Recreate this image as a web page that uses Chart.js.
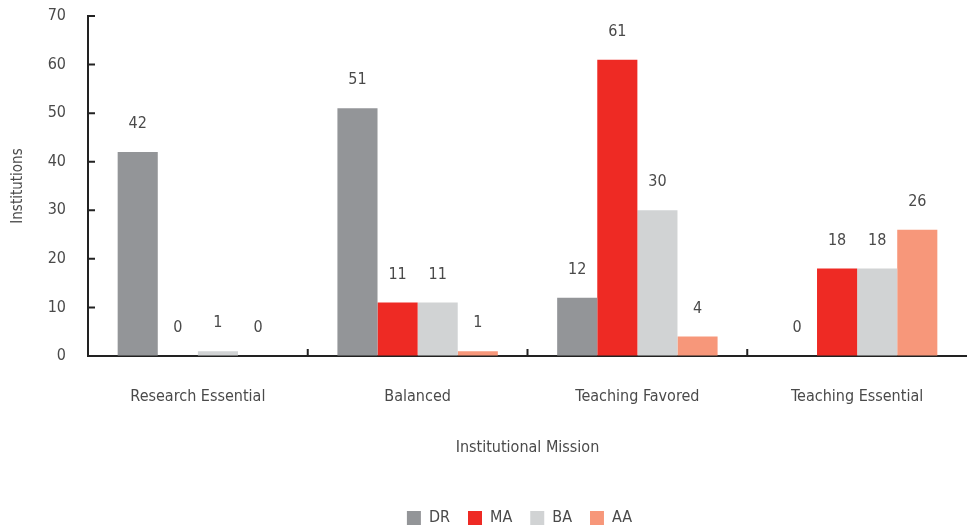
<!DOCTYPE html>
<html>
<head>
<meta charset="utf-8">
<script src="https://cdn.jsdelivr.net/npm/chart.js@4"></script>
<style>
  html, body { margin: 0; padding: 0; background: #fff; }
  #wrap { width: 967px; height: 529px; }
</style>
</head>
<body>
<div id="wrap"><canvas id="missionChart"></canvas></div>
<script>
const categories = ["Research Essential", "Balanced", "Teaching Favored", "Teaching Essential"];
const seriesNames = ["DR", "MA", "BA", "AA"];
const drValues = [42, 51, 12, 0];
const maValues = [0, 11, 61, 18];
const baValues = [1, 11, 30, 18];
const aaValues = [0, 1, 4, 26];
const yTicks = [0, 10, 20, 30, 40, 50, 60, 70];

const colors = ["#939598", "#ee2a24", "#d1d3d4", "#f7977a"];
const fontFamily = '"Liberation Sans Narrow", "DejaVu Sans Condensed", sans-serif';
const textColor = "#4a4a4a";

// value labels above bars + inward tick marks on both axes
const barLabels = {
    id: "barLabels",
    afterLayout(chart) {
        // legend sits centred under the plot area, not the whole canvas
        chart.legend.left += 36;
        chart.legend.right += 36;
    },
    afterDatasetsDraw(chart) {
        const ctx = chart.ctx;
        ctx.save();
        ctx.font = "16px " + fontFamily;
        ctx.fillStyle = textColor;
        ctx.textAlign = "center";
        ctx.textBaseline = "middle";
        chart.data.datasets.forEach((ds, i) => {
            chart.getDatasetMeta(i).data.forEach((bar, j) => {
                ctx.fillText(ds.data[j], bar.x, bar.y - 28);
            });
        });

        const y = chart.scales.y;
        const x = chart.scales.x;
        ctx.strokeStyle = "#222";
        ctx.lineWidth = 2;
        ctx.beginPath();
        yTicks.forEach(v => {
            const py = y.getPixelForValue(v);
            ctx.moveTo(x.left, py);
            ctx.lineTo(x.left + 7, py);
        });
        for (let k = 1; k < categories.length; k++) {
            const px = (x.getPixelForValue(k - 1) + x.getPixelForValue(k)) / 2;
            ctx.moveTo(px, y.bottom);
            ctx.lineTo(px, y.bottom - 7);
        }
        ctx.stroke();
        ctx.restore();
    }
};

const ctx = document.getElementById("missionChart").getContext("2d");
new Chart(ctx, {
    type: "bar",
    data: {
        labels: categories,
        datasets: [
            { label: seriesNames[0], data: drValues, backgroundColor: colors[0] },
            { label: seriesNames[1], data: maValues, backgroundColor: colors[1] },
            { label: seriesNames[2], data: baValues, backgroundColor: colors[2] },
            { label: seriesNames[3], data: aaValues, backgroundColor: colors[3] }
        ]
    },
    options: {
        responsive: true,
        maintainAspectRatio: false,
        animation: false,
        layout: { padding: { top: 16, right: 0, left: 0, bottom: -7 } },
        datasets: {
            bar: { categoryPercentage: 0.73, barPercentage: 1.0, borderWidth: 0 }
        },
        scales: {
            x: {
                afterFit: scale => { scale.height = 136; },
                grid: { display: false, drawTicks: false },
                border: { color: "#222", width: 2 },
                ticks: { color: textColor, font: { family: fontFamily, size: 16 }, padding: 31 },
                title: {
                    display: true, text: "Institutional Mission", color: textColor,
                    font: { family: fontFamily, size: 16 }, padding: { top: 0, bottom: 35 }
                }
            },
            y: {
                min: 0, max: 70,
                afterBuildTicks: scale => { scale.ticks = yTicks.map(v => ({ value: v })); },
                afterFit: scale => { scale.width = 88; },
                grid: { display: true, drawOnChartArea: false, drawTicks: true, tickLength: 22, color: "rgba(0,0,0,0)" },
                border: { color: "#222", width: 2 },
                ticks: { color: textColor, font: { family: fontFamily, size: 16 }, padding: 0 },
                title: {
                    display: true, text: "Institutions", color: textColor,
                    font: { family: fontFamily, size: 15 }, padding: { top: 9, bottom: 0 }
                }
            }
        },
        plugins: {
            legend: {
                position: "bottom",
                labels: {
                    color: textColor, boxWidth: 14, boxHeight: 14,
                    font: { family: fontFamily, size: 16 }, padding: 18
                }
            },
            tooltip: { enabled: false }
        }
    },
    plugins: [barLabels]
});
</script>
</body>
</html>
